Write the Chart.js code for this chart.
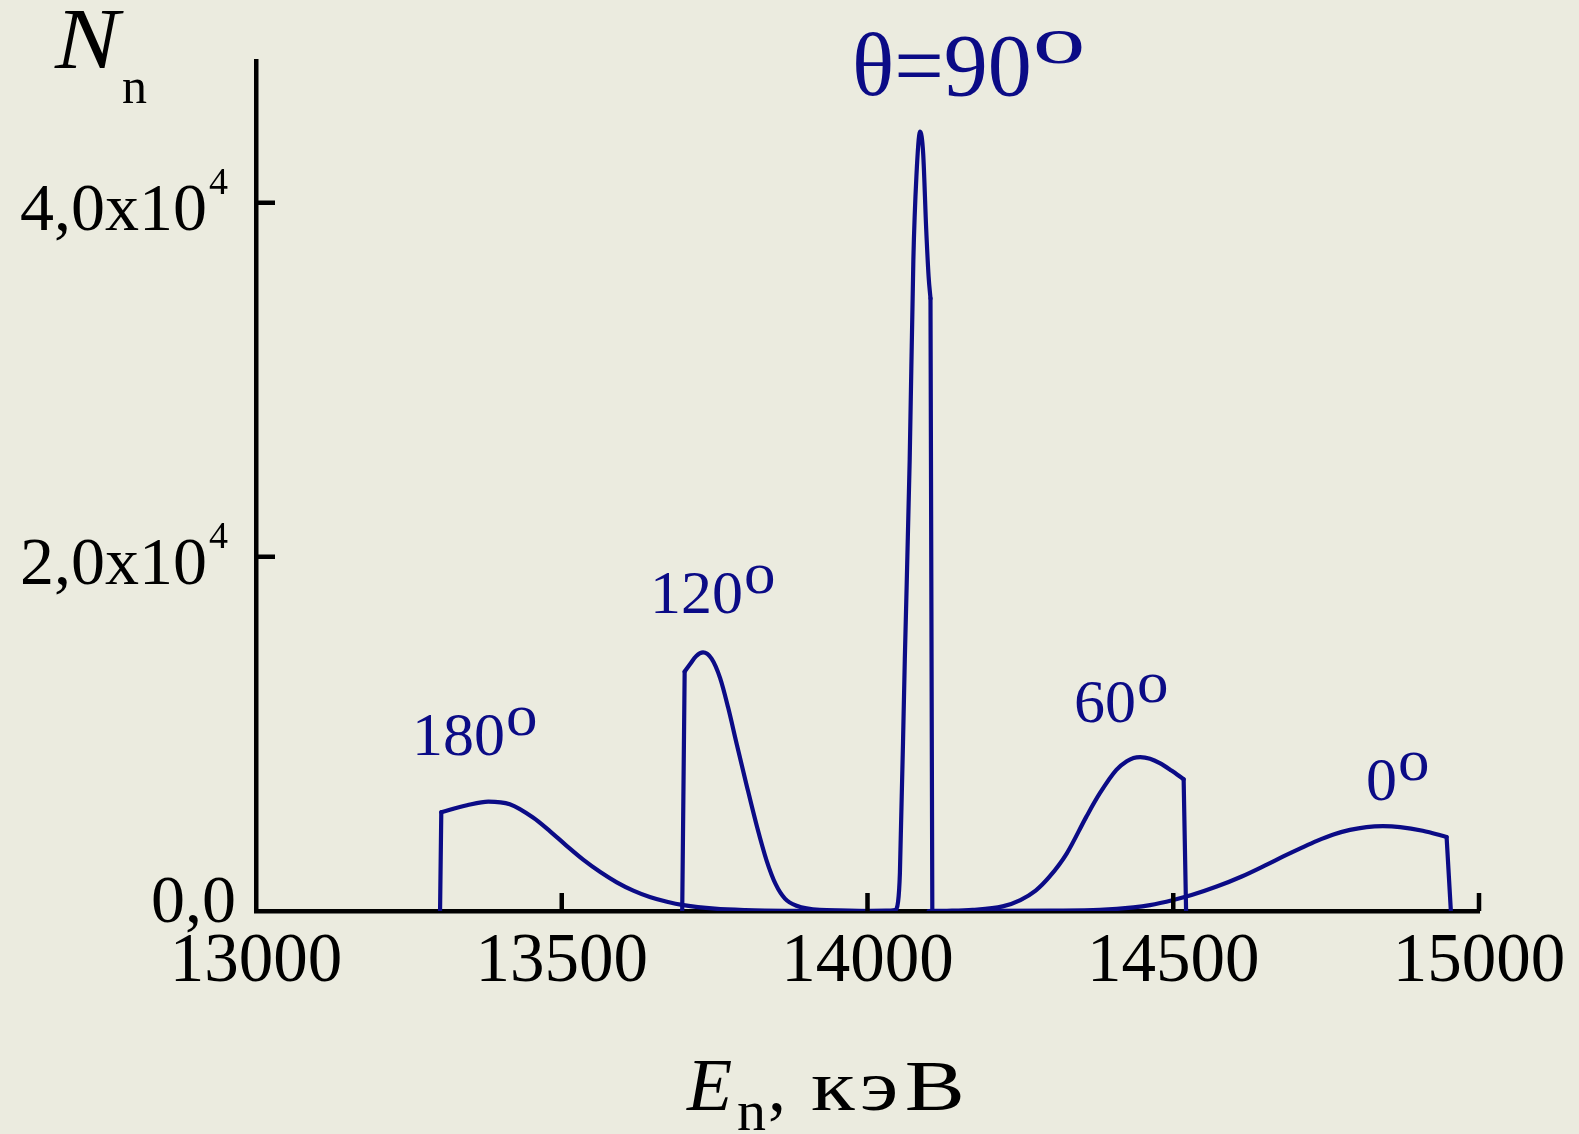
<!DOCTYPE html>
<html>
<head>
<meta charset="utf-8">
<title>Nn(En)</title>
<script src="https://cdn.jsdelivr.net/npm/chart.js@4.4.1/dist/chart.umd.min.js"></script>
<style>
    html, body { margin: 0; padding: 0; background: #ebebdf; }
    #wrap { width: 1579px; height: 1134px; }
</style>
</head>
<body>
<div id="wrap"><canvas id="spectrumChart" width="1579" height="1134"></canvas></div>
<script>
//--- values (E in keV, N counts)
// 180 and 120 start with a vertical edge, 90, 60 and 0 end with one
const e180 = [13301, 13303, 13345, 13380, 13415, 13453, 13481, 13508, 13535, 13563, 13590, 13617, 13644, 13672, 13699, 13750, 13800, 13880, 14000];
const n180 = [0, 5580, 5970, 6180, 6030, 5280, 4500, 3680, 2900, 2200, 1620, 1150, 790, 520, 330, 130, 50, 10, 0];

const e120 = [13697, 13701, 13710, 13720, 13731, 13745, 13759, 13772, 13786, 13802, 13819, 13835, 13850, 13865, 13884, 13922, 14000];
const n120 = [0, 13520, 13950, 14400, 14600, 14250, 13150, 11500, 9450, 7150, 4800, 2850, 1500, 700, 300, 60, 0];

const e90 = [13990, 14030, 14045, 14050, 14053, 14061, 14069, 14075, 14080, 14086, 14091, 14096, 14100, 14103, 14106];
const n90 = [0, 20, 60, 520, 2150, 14180, 25480, 36780, 41500, 44010, 42800, 38500, 35800, 34600, 0];

const e60 = [14100, 14130, 14172, 14221, 14250, 14275, 14298, 14326, 14358, 14380, 14407, 14424, 14435, 14446, 14462, 14478, 14497, 14517, 14521];
const n60 = [0, 10, 60, 260, 620, 1150, 1950, 3260, 5330, 6650, 7970, 8450, 8640, 8690, 8600, 8350, 7930, 7440, 0];

const e0 = [14150, 14300, 14380, 14435, 14462, 14500, 14530, 14571, 14612, 14653, 14680, 14707, 14735, 14762, 14789, 14816, 14843, 14871, 14908, 14947, 14954];
const n0 = [0, 20, 60, 200, 330, 620, 900, 1380, 1950, 2620, 3080, 3520, 3960, 4320, 4580, 4740, 4790, 4740, 4530, 4180, 0];

const xTicks = [13000, 13500, 14000, 14500, 15000];
const yTicks = [0, 20000, 40000];
const yTickLabels = ['0,0', '2,0x10', '4,0x10'];
const yTickPowers = ['', '4', '4'];

const angleLabels = ['180', '120', '60', '0'];

//--- styles
const navy = '#0b0b86';
const serif = '"Liberation Serif", "Times New Roman", serif';

// where the curve captions sit (pixels, left edge + baseline)
const notePos = [
    { x: 412, y: 755 },
    { x: 650, y: 613 },
    { x: 1074, y: 722 },
    { x: 1366, y: 800 }
];

function toPoints(xs, ys) {
    return xs.map(function (x, i) { return { x: x, y: ys[i] }; });
}

function line(xs, ys, smooth) {
    return {
        data: toPoints(xs, ys),
        borderColor: navy,
        borderWidth: 4.2,
        borderCapStyle: 'round',
        borderJoinStyle: 'round',
        pointRadius: 0,
        fill: false,
        tension: 0,
        cubicInterpolationMode: smooth ? 'monotone' : 'default'
    };
}

// a curve = smooth body + the straight vertical edge at its start or end
function curve(xs, ys, edgeAtStart) {
    const n = xs.length;
    if (edgeAtStart) {
        return [line(xs.slice(0, 2), ys.slice(0, 2), false), line(xs.slice(1), ys.slice(1), true)];
    }
    return [line(xs.slice(0, n - 1), ys.slice(0, n - 1), true), line(xs.slice(n - 2), ys.slice(n - 2), false)];
}

// text with a raised small "o" after it
function withDegree(ctx, text, x, y, size, oSize, rise, stretch) {
    ctx.font = size + 'px ' + serif;
    ctx.textAlign = 'left';
    ctx.fillText(text, x, y);
    const w = ctx.measureText(text).width;
    ctx.save();
    ctx.font = oSize + 'px ' + serif;
    ctx.translate(x + w + 1, y - rise);
    ctx.scale(stretch, 1);
    ctx.fillText('o', 0, 0);
    ctx.restore();
}

const textPlugin = {
    id: 'textPlugin',
    afterDraw: function (chart) {
        const ctx = chart.ctx;
        const xs = chart.scales.x;
        const ys = chart.scales.y;
        const area = chart.chartArea;

        ctx.save();
        // inward tick marks
        ctx.strokeStyle = '#000';
        ctx.lineWidth = 4.5;
        ctx.beginPath();
        xTicks.forEach(function (v) {
            if (v === xs.min) return;
            const px = xs.getPixelForValue(v);
            ctx.moveTo(px, area.bottom);
            ctx.lineTo(px, area.bottom - 18);
        });
        yTicks.forEach(function (v) {
            if (v === ys.min) return;
            const py = ys.getPixelForValue(v);
            ctx.moveTo(area.left, py);
            ctx.lineTo(area.left + 19, py);
        });
        ctx.stroke();

        // tick labels
        ctx.fillStyle = '#000';
        ctx.textBaseline = 'alphabetic';
        ctx.font = '69px ' + serif;
        ctx.textAlign = 'center';
        xTicks.forEach(function (v) {
            ctx.fillText(String(v), xs.getPixelForValue(v), area.bottom + 70);
        });

        yTicks.forEach(function (v, i) {
            const py = ys.getPixelForValue(v);
            ctx.font = '68px ' + serif;
            ctx.textAlign = 'right';
            if (yTickPowers[i] === '') {
                ctx.fillText(yTickLabels[i], 236, py + 11);
            } else {
                ctx.fillText(yTickLabels[i], 207, py + 27);
                ctx.font = '38px ' + serif;
                ctx.textAlign = 'left';
                ctx.fillText(yTickPowers[i], 209, py - 9);
            }
        });

        // axis titles
        ctx.textAlign = 'left';
        ctx.save();
        ctx.translate(55, 68);
        ctx.scale(1.12, 1);
        ctx.font = 'italic 86px ' + serif;
        ctx.fillText('N', 0, 0);
        ctx.restore();
        ctx.font = '50px ' + serif;
        ctx.fillText('n', 122, 103);

        ctx.font = 'italic 74px ' + serif;
        ctx.fillText('E', 687, 1110);
        ctx.font = '58px ' + serif;
        ctx.fillText('n', 737, 1130);
        ctx.font = '72px ' + serif;
        ctx.fillText(',', 768, 1110);
        ctx.save();
        ctx.translate(811, 1110);
        ctx.scale(1.25, 1);
        ctx.letterSpacing = '5px';
        ctx.fillText('кэВ', 0, 0);
        ctx.restore();

        // curve captions
        ctx.fillStyle = navy;
        angleLabels.forEach(function (t, i) {
            withDegree(ctx, t, notePos[i].x, notePos[i].y, 62, 60, 20, 1.05);
        });
        withDegree(ctx, 'θ=90', 852, 95, 88, 68, 32, 1.55);

        ctx.restore();
    }
};

const ctx = document.getElementById('spectrumChart');
new Chart(ctx, {
    type: 'line',
    data: {
        datasets: [].concat(
            curve(e180, n180, true),
            curve(e120, n120, true),
            curve(e90, n90, false),
            curve(e60, n60, false),
            curve(e0, n0, false)
        )
    },
    options: {
        responsive: false,
        animation: false,
        layout: { padding: { left: 256, right: 100, top: 61, bottom: 223 } },
        plugins: {
            legend: { display: false },
            tooltip: { enabled: false }
        },
        scales: {
            x: {
                type: 'linear',
                min: 13000,
                max: 15000,
                grid: { display: false, drawTicks: false },
                border: { display: true, color: '#000', width: 4.5 },
                ticks: { display: false }
            },
            y: {
                min: 0,
                max: 48000,
                grid: { display: false, drawTicks: false },
                border: { display: true, color: '#000', width: 4.5 },
                ticks: { display: false }
            }
        }
    },
    plugins: [textPlugin]
});
</script>
</body>
</html>
